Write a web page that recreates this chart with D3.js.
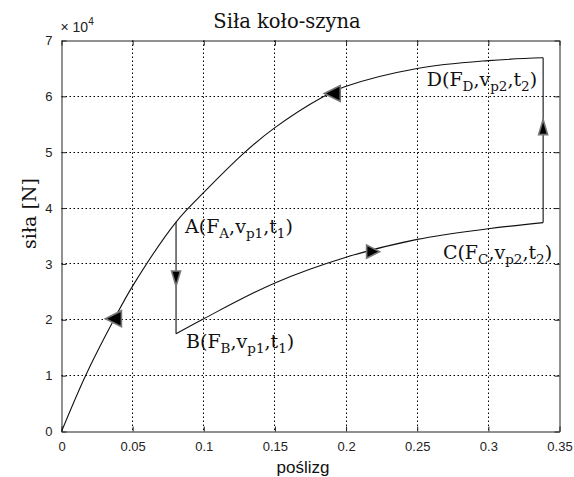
<!DOCTYPE html>
<html>
<head>
<meta charset="utf-8">
<script src="https://cdn.jsdelivr.net/npm/d3@7"></script>
<style>
  body { margin: 0; background: #fff; }
  svg { display: block; }
</style>
</head>
<body>
<div id="chart"></div>
<script>
// upper curve (D -> A -> 0)
const upperSlip  = [0, 0.0169, 0.0368, 0.0506, 0.0805, 0.1, 0.128, 0.15, 0.183, 0.2, 0.25, 0.3, 0.3385];
const upperForce = [0, 10000, 20000, 26300, 37500, 42800, 49800, 54400, 59800, 61800, 65000, 66400, 66900];

// lower curve (B -> C)
const lowerSlip  = [0.0805, 0.1, 0.15, 0.2, 0.25, 0.3, 0.3385];
const lowerForce = [17500, 20200, 26600, 31200, 34400, 36300, 37400];

// vertical jumps A->B and C->D
const jumpSlip  = [0.0805, 0.3385];
const jumpFrom  = [37500, 37400];
const jumpTo    = [17500, 66900];

// arrow heads
const arrowSlip  = [0.0365, 0.1903, 0.0805, 0.219, 0.3385];
const arrowForce = [20200, 60500, 27400, 32200, 54500];
const arrowDir   = ['left', 'left', 'down', 'right', 'up'];

const xTicks = [0, 0.05, 0.1, 0.15, 0.2, 0.25, 0.3, 0.35];
const xTickLabels = ['0', '0.05', '0.1', '0.15', '0.2', '0.25', '0.3', '0.35'];
const yTicks = [0, 10000, 20000, 30000, 40000, 50000, 60000, 70000];
const yTickLabels = ['0', '1', '2', '3', '4', '5', '6', '7'];

const W = 574, H = 477;
const margin = { top: 40, right: 15, bottom: 46, left: 61 };
const width = W - margin.left - margin.right;
const height = H - margin.top - margin.bottom;

const svg = d3.select('#chart').append('svg')
    .attr('width', W)
    .attr('height', H);

const g = svg.append('g')
    .attr('transform', `translate(${margin.left + 0.5},${margin.top + 0.5})`);

const x = d3.scaleLinear().domain([0, 0.35]).range([0, width]);
const y = d3.scaleLinear().domain([0, 70000]).range([height, 0]);

// dotted grid
const grid = g.append('g')
    .attr('stroke', '#000')
    .attr('stroke-width', 1)
    .attr('stroke-dasharray', '1.5,2.5');

grid.selectAll('.gx')
    .data(xTicks.slice(1, -1))
    .join('line')
    .attr('class', 'gx')
    .attr('x1', d => Math.round(x(d))).attr('x2', d => Math.round(x(d)))
    .attr('y1', 0).attr('y2', height);

grid.selectAll('.gy')
    .data(yTicks.slice(1, -1))
    .join('line')
    .attr('class', 'gy')
    .attr('x1', 0).attr('x2', width)
    .attr('y1', d => Math.round(y(d))).attr('y2', d => Math.round(y(d)));

// axes, ticks inward (matlab style)
const tickFont = 'Liberation Sans, Arial, sans-serif';

const xb = g.append('g')
    .attr('transform', `translate(0,${height})`)
    .call(d3.axisBottom(x).tickValues(xTicks).tickSizeInner(-5).tickSizeOuter(0)
        .tickPadding(10).tickFormat((d, i) => xTickLabels[i]));
const xt = g.append('g')
    .call(d3.axisTop(x).tickValues(xTicks).tickSizeInner(-5).tickSizeOuter(0).tickFormat(''));
const yl = g.append('g')
    .call(d3.axisLeft(y).tickValues(yTicks).tickSizeInner(-5).tickSizeOuter(0)
        .tickPadding(9).tickFormat((d, i) => yTickLabels[i]));
const yr = g.append('g')
    .attr('transform', `translate(${width},0)`)
    .call(d3.axisRight(y).tickValues(yTicks).tickSizeInner(-5).tickSizeOuter(0).tickFormat(''));

[xb, xt, yl, yr].forEach(a => {
    a.select('.domain').attr('stroke', '#222');
    a.selectAll('.tick line').attr('stroke', '#222');
    a.selectAll('text')
        .style('font-family', tickFont)
        .style('font-size', '13px')
        .attr('fill', '#222');
});

// x10^4 multiplier
const mult = g.append('text')
    .attr('x', -1)
    .attr('y', -9)
    .style('font-family', tickFont)
    .style('font-size', '14px')
    .attr('fill', '#222');
mult.append('tspan').text('× 10');
mult.append('tspan').attr('dy', -7).style('font-size', '10px').text('4');

// curves
const line = d3.line()
    .x(d => x(d[0]))
    .y(d => y(d[1]))
    .curve(d3.curveCatmullRom.alpha(0.5));

const upper = upperSlip.map((s, i) => [s, upperForce[i]]);
const lower = lowerSlip.map((s, i) => [s, lowerForce[i]]);

g.append('path')
    .datum(upper)
    .attr('fill', 'none')
    .attr('stroke', '#111')
    .attr('stroke-width', 1.1)
    .attr('d', line);

g.append('path')
    .datum(lower)
    .attr('fill', 'none')
    .attr('stroke', '#111')
    .attr('stroke-width', 1.1)
    .attr('d', line);

g.append('g')
    .selectAll('line')
    .data(jumpSlip)
    .join('line')
    .attr('x1', d => x(d)).attr('x2', d => x(d))
    .attr('y1', (d, i) => y(jumpFrom[i]))
    .attr('y2', (d, i) => y(jumpTo[i]))
    .attr('stroke', '#111')
    .attr('stroke-width', 1.1);

// arrow heads
const rot = { right: 0, down: 90, left: 180, up: 270 };
const big = { left: [16, 8], right: [13, 6.5], down: [15, 4.5], up: [15, 4.5] };
g.append('g')
    .selectAll('path')
    .data(arrowSlip)
    .join('path')
    .attr('transform', (d, i) => `translate(${x(d)},${y(arrowForce[i])}) rotate(${rot[arrowDir[i]]})`)
    .attr('d', (d, i) => {
        const [L, w] = big[arrowDir[i]];
        return `M${L / 2},0L${-L / 2},${-w}L${-L / 2},${w}Z`;
    })
    .attr('fill', '#000')
    .attr('stroke', '#777')
    .attr('stroke-width', 1.6)
    .attr('stroke-linejoin', 'miter');

// point labels
const serif = 'DejaVu Serif, serif';
function pointLabel(px, py, anchor, main, sub1, sub2, sub3) {
    const t = g.append('text')
        .attr('x', px).attr('y', py)
        .attr('text-anchor', anchor)
        .style('font-family', serif)
        .style('font-size', '19px')
        .attr('fill', '#111');
    t.append('tspan').text(main + '(F');
    t.append('tspan').attr('dy', 5).style('font-size', '13.5px').text(sub1);
    t.append('tspan').attr('dy', -5).text(',v');
    t.append('tspan').attr('dy', 5).style('font-size', '13.5px').text(sub2);
    t.append('tspan').attr('dy', -5).text(',t');
    t.append('tspan').attr('dy', 5).style('font-size', '13.5px').text(sub3);
    t.append('tspan').attr('dy', -5).text(')');
    return t;
}

pointLabel(x(jumpSlip[0]) + 9, y(jumpFrom[0]) + 11, 'start', 'A', 'A', 'p1', '1');
pointLabel(x(jumpSlip[0]) + 10, y(jumpTo[0]) + 14, 'start', 'B', 'B', 'p1', '1');
pointLabel(x(jumpSlip[1]) + 9, y(jumpFrom[1]) + 36, 'end', 'C', 'C', 'p2', '2');
pointLabel(x(jumpSlip[1]) - 6, y(jumpTo[1]) + 28, 'end', 'D', 'D', 'p2', '2');

// title and axis labels
svg.append('text')
    .attr('x', 287)
    .attr('y', 28)
    .attr('text-anchor', 'middle')
    .style('font-family', serif)
    .style('font-size', '19.5px')
    .attr('fill', '#111')
    .text('Siła koło-szyna');

svg.append('text')
    .attr('transform', `translate(36,${margin.top + height / 2 - 22}) rotate(-90)`)
    .attr('text-anchor', 'middle')
    .style('font-family', serif)
    .style('font-size', '19px')
    .attr('fill', '#111')
    .text('siła [N]');

svg.append('text')
    .attr('x', 303)
    .attr('y', 473)
    .attr('text-anchor', 'middle')
    .style('font-family', tickFont)
    .style('font-size', '17px')
    .attr('fill', '#111')
    .text('poślizg');
</script>
</body>
</html>
